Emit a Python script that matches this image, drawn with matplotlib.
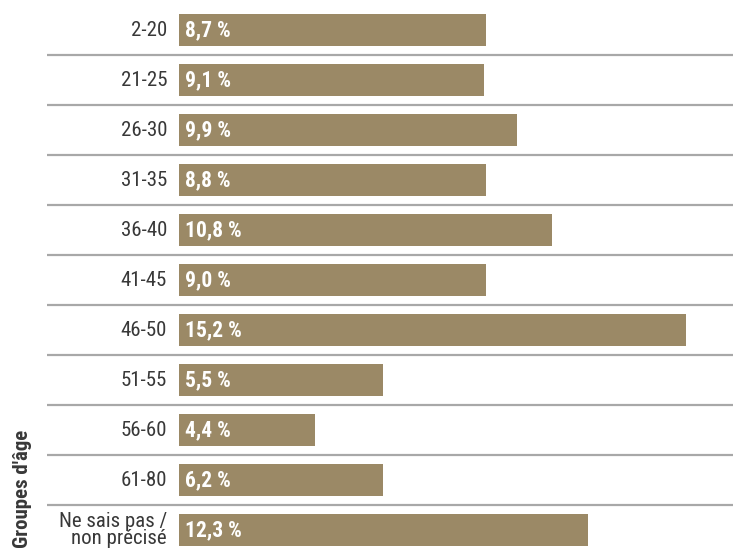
import matplotlib.pyplot as plt
import matplotlib.transforms as mtransforms

# age groups, top to bottom
groups = ["2-20", "21-25", "26-30", "31-35", "36-40", "41-45", "46-50",
          "51-55", "56-60", "61-80", "Ne sais pas /\nnon précisé"]
# printed percentages
pct_text = ["8,7 %", "9,1 %", "9,9 %", "8,8 %", "10,8 %", "9,0 %", "15,2 %",
            "5,5 %", "4,4 %", "6,2 %", "12,3 %"]
# bar lengths as drawn in the picture (same % scale)
lengths = [9.2, 9.14, 10.13, 9.2, 11.18, 9.2, 15.2, 6.12, 4.08, 6.12, 12.26]

bar_color = "#9b8966"
text_color = "#383838"
font = ["Roboto Condensed", "DejaVu Sans"]

fig = plt.figure(figsize=(7.33, 5.5), dpi=100)
ax = fig.add_axes([47 / 733, -5 / 550, 686 / 733, 1.0])

y = list(range(len(groups)))
ax.barh(y, lengths, height=0.64, color=bar_color, left=0)

# separators between rows
for i in range(len(groups) - 1):
    ax.axhline(i + 0.5, color="#a8a8a8", lw=1.6, zorder=0)

pad = mtransforms.offset_copy(ax.transData, fig=fig, x=-12, y=0, units="dots")
vpad = mtransforms.offset_copy(ax.transData, fig=fig, x=6, y=0, units="dots")
for i, (g, t) in enumerate(zip(groups, pct_text)):
    ax.text(0, i, g, transform=pad, ha="right", va="center", fontsize=15,
            color=text_color, family=font, fontstretch="condensed", linespacing=0.85)
    ax.text(0, i, t, transform=vpad, ha="left", va="center", fontsize=15.5,
            color="white", fontweight="bold", family=font, fontstretch="condensed")

ax.set_xlim(-132 / 33.36, 554 / 33.36)
ax.set_ylim(len(groups) - 0.5, -0.5)
ax.axis("off")

fig.text(23 / 733, 2 / 550, "Groupes d'âge", rotation=90, ha="center",
         va="bottom", fontsize=15, fontweight="bold", color=text_color,
         family=font, fontstretch="condensed")

fig.savefig("out.png", dpi=100)
